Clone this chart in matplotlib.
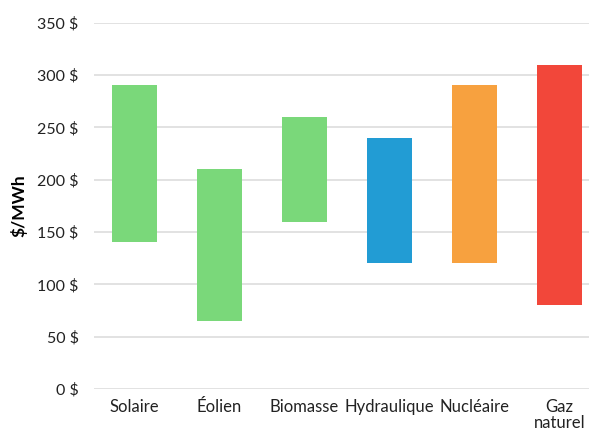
import matplotlib.pyplot as plt

# Fourchettes de coût ($/MWh)
categories = ["Solaire", "Éolien", "Biomasse", "Hydraulique", "Nucléaire", "Gaz\nnaturel"]
low = [140, 65, 160, 120, 120, 80]
high = [290, 210, 260, 240, 290, 310]
colors = ["#7ad87a", "#7ad87a", "#7ad87a", "#229cd4", "#f7a13f", "#f2473a"]
yticks = [0, 50, 100, 150, 200, 250, 300, 350]

plt.rcParams["font.family"] = ["Lato", "DejaVu Sans"]

fig = plt.figure(figsize=(5.89, 4.33), dpi=100)
ax = fig.add_axes([0.1596, 0.1016, 0.8404, 0.846])

x = list(range(len(categories)))
heights = [h - l for l, h in zip(low, high)]
ax.bar(x, heights, bottom=low, width=0.53, color=colors, zorder=3)

ax.set_ylim(0, 350)
ax.set_xlim(-0.476, 5.347)
ax.set_yticks(yticks)
ax.set_yticklabels([f"{v} $" for v in yticks], fontsize=11.5, color="#222222")
ax.set_xticks(x)
ax.set_xticklabels(categories, fontsize=12, color="#222222", linespacing=1.0)
ax.tick_params(axis="y", length=0, pad=11)
ax.tick_params(axis="x", length=0, pad=7)
ax.yaxis.grid(True, color="#dddddd", linewidth=1.2, zorder=0)
for s in ax.spines.values():
    s.set_visible(False)

ax.set_ylabel("$/MWh", fontsize=12.5, fontweight="bold", labelpad=7)

fig.savefig("out.png", dpi=100)
